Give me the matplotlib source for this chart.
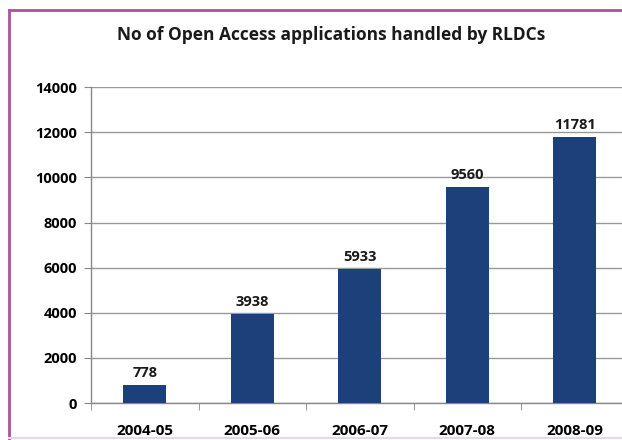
import matplotlib
matplotlib.use('Agg')
import matplotlib.pyplot as plt
from matplotlib.lines import Line2D

# data
years = ['2004-05', '2005-06', '2006-07', '2007-08', '2008-09']
applications = [778, 3938, 5933, 9560, 11781]
y_ticks = [0, 2000, 4000, 6000, 8000, 10000, 12000, 14000]

plt.rcParams['font.family'] = ['Open Sans', 'DejaVu Sans']

fig = plt.figure(figsize=(6.22, 4.40), dpi=100)
ax = fig.add_axes([91 / 622, 37 / 440, 537.5 / 622, 315.7 / 440])

x = range(len(years))
bars = ax.bar(x, applications, width=0.4, color='#1c4079', zorder=3)

# value labels
for xi, v in zip(x, applications):
    ax.text(xi, v + 250, str(v), ha='center', va='bottom',
            fontsize=10.5, fontweight='bold', color='#1a1a1a')

ax.set_xlim(-0.5, len(years) - 0.5)
ax.set_ylim(0, 14000)
ax.set_yticks(y_ticks)
ax.set_yticklabels([str(t) for t in y_ticks], fontsize=10.5, fontweight='bold')
ax.set_xticks(list(x))
ax.set_xticklabels(years, fontsize=11, fontweight='bold')
ax.set_xticks([i - 0.5 for i in range(len(years) + 1)], minor=True)
ax.tick_params(axis='x', which='major', length=0, pad=15)
ax.tick_params(axis='x', which='minor', length=5, color='#888888', direction='out')
ax.tick_params(axis='y', length=5, color='#888888', pad=5)

ax.grid(axis='y', color='#999999', linewidth=1, zorder=0)
for side in ['top', 'right']:
    ax.spines[side].set_visible(False)
for side in ['left', 'bottom']:
    ax.spines[side].set_color('#888888')
    ax.spines[side].set_linewidth(1)

fig.text(331 / 622, 1 - 35 / 440, 'No of Open Access applications handled by RLDCs',
         ha='center', va='center', fontsize=12.5, fontweight='bold', color='#1a1a1a')

# frame around the chart
fig.add_artist(Line2D([9 / 622, 9 / 622], [0, 1 - 10 / 440], transform=fig.transFigure,
                      color='#b04fa0', linewidth=2))
fig.add_artist(Line2D([9 / 622, 1], [1 - 10 / 440, 1 - 10 / 440], transform=fig.transFigure,
                      color='#b04fa0', linewidth=2))
fig.add_artist(Line2D([9 / 622, 1], [2 / 440, 2 / 440], transform=fig.transFigure,
                      color='#ead6ea', linewidth=1.5))

fig.savefig('out.png', dpi=100)
